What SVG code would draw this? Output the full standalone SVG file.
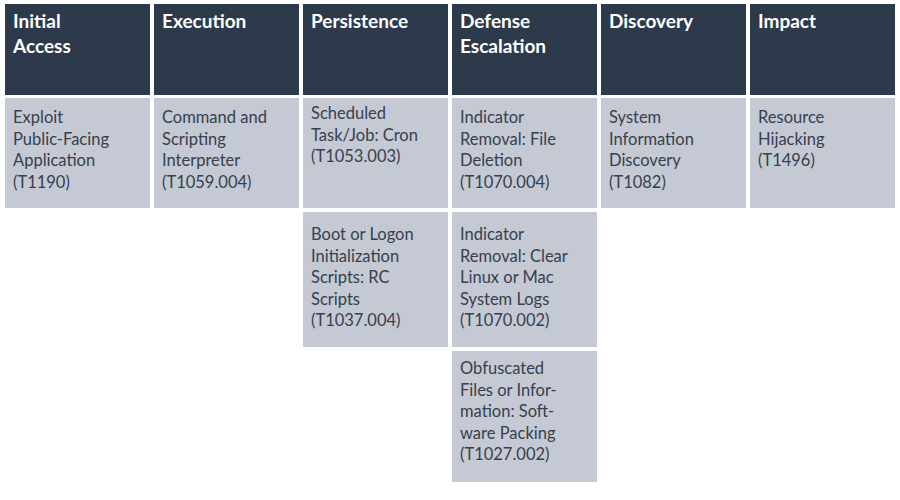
<svg xmlns="http://www.w3.org/2000/svg" width="900" height="500" viewBox="0 0 900 500">
<style>
.h{fill:#2d3a4c}.c{fill:#c5c9d3}
.ht{font-family:Lato,"Noto Sans",sans-serif;font-weight:bold;font-size:19px;fill:#fff}
.t{font-family:Lato,"Noto Sans",sans-serif;font-size:16.5px;fill:#36404e}
</style>
<rect width="900" height="500" fill="#fff"/>
<g id="h1"><rect class="h" x="5" y="4" width="145" height="91"/><text class="ht" x="13" y="28">Initial<tspan x="13" dy="25">Access</tspan></text></g>
<g id="h2"><rect class="h" x="154" y="4" width="145" height="91"/><text class="ht" x="162" y="28">Execution</text></g>
<g id="h3"><rect class="h" x="303" y="4" width="145" height="91"/><text class="ht" x="311" y="28">Persistence</text></g>
<g id="h4"><rect class="h" x="452" y="4" width="145" height="91"/><text class="ht" x="460" y="28">Defense<tspan x="460" dy="25">Escalation</tspan></text></g>
<g id="h5"><rect class="h" x="601" y="4" width="145" height="91"/><text class="ht" x="609" y="28">Discovery</text></g>
<g id="h6"><rect class="h" x="750" y="4" width="145" height="91"/><text class="ht" x="758" y="28">Impact</text></g>
<g id="c1"><rect class="c" x="5" y="98" width="145" height="110"/><text class="t" x="13" y="123">Exploit<tspan x="13" dy="21.5">Public-Facing</tspan><tspan x="13" dy="21.5">Application</tspan><tspan x="13" dy="21.5">(T1190)</tspan></text></g>
<g id="c2"><rect class="c" x="154" y="98" width="145" height="110"/><text class="t" x="162" y="123">Command and<tspan x="162" dy="21.5">Scripting</tspan><tspan x="162" dy="21.5">Interpreter</tspan><tspan x="162" dy="21.5">(T1059.004)</tspan></text></g>
<g id="c3"><rect class="c" x="303" y="98" width="145" height="110"/><text class="t" x="311" y="119">Scheduled<tspan x="311" dy="21.5">Task/Job: Cron</tspan><tspan x="311" dy="21.5">(T1053.003)</tspan></text></g>
<g id="c4"><rect class="c" x="452" y="98" width="145" height="110"/><text class="t" x="460" y="123">Indicator<tspan x="460" dy="21.5">Removal: File</tspan><tspan x="460" dy="21.5">Deletion</tspan><tspan x="460" dy="21.5">(T1070.004)</tspan></text></g>
<g id="c5"><rect class="c" x="601" y="98" width="145" height="110"/><text class="t" x="609" y="123">System<tspan x="609" dy="21.5">Information</tspan><tspan x="609" dy="21.5">Discovery</tspan><tspan x="609" dy="21.5">(T1082)</tspan></text></g>
<g id="c6"><rect class="c" x="750" y="98" width="145" height="110"/><text class="t" x="758" y="123">Resource<tspan x="758" dy="21.5">Hijacking</tspan><tspan x="758" dy="21.5">(T1496)</tspan></text></g>
<g id="c7"><rect class="c" x="303" y="212" width="145" height="135"/><text class="t" x="311" y="240">Boot or Logon<tspan x="311" dy="21.5">Initialization</tspan><tspan x="311" dy="21.5">Scripts: RC</tspan><tspan x="311" dy="21.5">Scripts</tspan><tspan x="311" dy="21.5">(T1037.004)</tspan></text></g>
<g id="c8"><rect class="c" x="452" y="212" width="145" height="135"/><text class="t" x="460" y="240">Indicator<tspan x="460" dy="21.5">Removal: Clear</tspan><tspan x="460" dy="21.5">Linux or Mac</tspan><tspan x="460" dy="21.5">System Logs</tspan><tspan x="460" dy="21.5">(T1070.002)</tspan></text></g>
<g id="c9"><rect class="c" x="452" y="351" width="145" height="131"/><text class="t" x="460" y="374">Obfuscated<tspan x="460" dy="21.5">Files or Infor-</tspan><tspan x="460" dy="21.5">mation: Soft-</tspan><tspan x="460" dy="21.5">ware Packing</tspan><tspan x="460" dy="21.5">(T1027.002)</tspan></text></g>
<g id="connectors"/>
</svg>
